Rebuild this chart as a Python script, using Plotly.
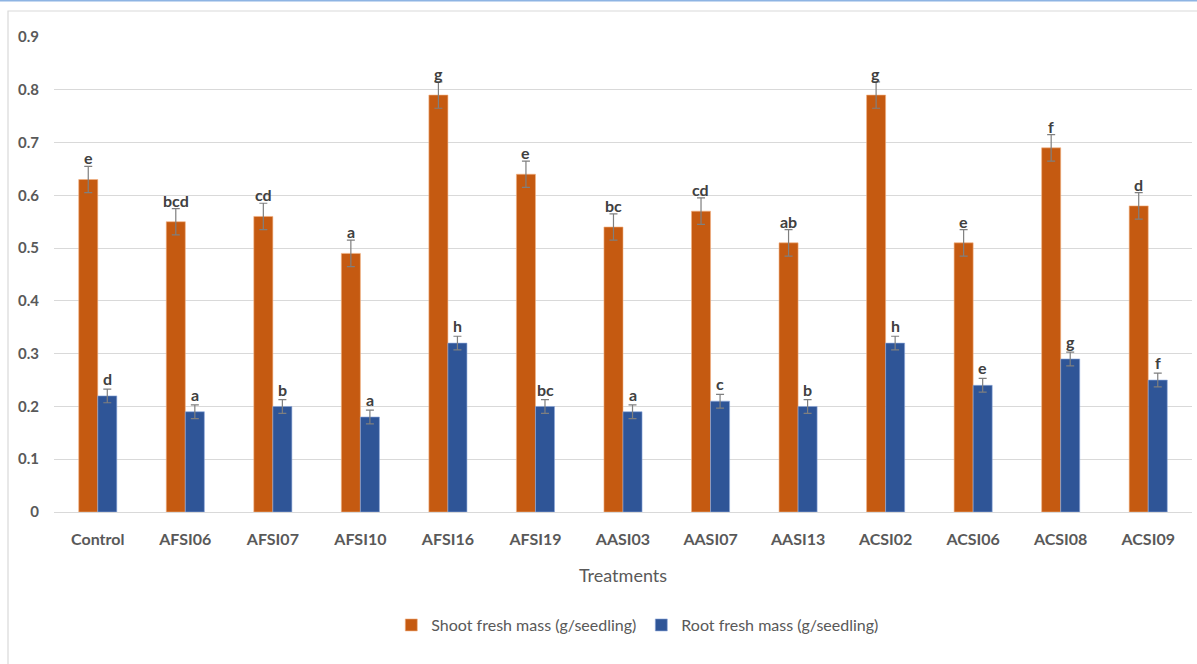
import plotly.graph_objects as go

treatments = ["Control", "AFSI06", "AFSI07", "AFSI10", "AFSI16", "AFSI19", "AASI03",
              "AASI07", "AASI13", "ACSI02", "ACSI06", "ACSI08", "ACSI09"]
shoot_mass = [0.63, 0.55, 0.56, 0.49, 0.79, 0.64, 0.54, 0.57, 0.51, 0.79, 0.51, 0.69, 0.58]
root_mass = [0.22, 0.19, 0.20, 0.18, 0.32, 0.20, 0.19, 0.21, 0.20, 0.32, 0.24, 0.29, 0.25]
shoot_err = [0.025, 0.025, 0.025, 0.025, 0.025, 0.025, 0.025, 0.025, 0.025, 0.025, 0.025, 0.025, 0.025]
root_err = [0.013, 0.013, 0.013, 0.013, 0.013, 0.013, 0.013, 0.013, 0.013, 0.013, 0.013, 0.013, 0.013]
shoot_letters = ["e", "bcd", "cd", "a", "g", "e", "bc", "cd", "ab", "g", "e", "f", "d"]
root_letters = ["d", "a", "b", "a", "h", "bc", "a", "c", "b", "h", "e", "g", "f"]
y_ticks = [0, 0.1, 0.2, 0.3, 0.4, 0.5, 0.6, 0.7, 0.8, 0.9]

ORANGE = "#C55A11"
BLUE = "#2F5597"
TEXT = "#595959"
FONT = "Lato, Open Sans, sans-serif"

err_style = dict(type="data", visible=True, color="#7F7F7F", thickness=1.2, width=4)

fig = go.Figure()
fig.add_trace(go.Bar(
    x=treatments, y=shoot_mass, name="Shoot fresh mass (g/seedling)",
    marker=dict(color=ORANGE, line=dict(color="#F4B183", width=0.6)),
    error_y=dict(array=shoot_err, **err_style),
))
fig.add_trace(go.Bar(
    x=treatments, y=root_mass, name="Root fresh mass (g/seedling)",
    marker=dict(color=BLUE, line=dict(color="#8FAADC", width=0.6)),
    error_y=dict(array=root_err, **err_style),
))

# significance letters above each error bar
annotations = []
for i, t in enumerate(treatments):
    annotations.append(dict(x=t, y=shoot_mass[i] + shoot_err[i], xref="x", yref="y",
                            text=shoot_letters[i], showarrow=False, xshift=-9.7,
                            yanchor="bottom", yshift=-3,
                            font=dict(family=FONT, size=16, color="#404040", weight="bold")))
    annotations.append(dict(x=t, y=root_mass[i] + root_err[i], xref="x", yref="y",
                            text=root_letters[i], showarrow=False, xshift=9.7,
                            yanchor="bottom", yshift=-1,
                            font=dict(family=FONT, size=16, color="#404040", weight="bold")))

fig.update_layout(
    width=1197, height=664,
    margin=dict(l=54, r=5, t=37, b=152),
    paper_bgcolor="white", plot_bgcolor="white",
    barmode="group", bargap=0.565, bargroupgap=0,
    font=dict(family=FONT, color=TEXT, size=14),
    annotations=annotations,
    showlegend=True,
    legend=dict(orientation="h", x=0.513, xanchor="center", y=-0.238, yanchor="middle",
                font=dict(family=FONT, size=16, color=TEXT), itemwidth=30,
                traceorder="normal"),
    xaxis=dict(
        title=dict(text="Treatments", font=dict(family=FONT, size=18, color=TEXT), standoff=22),
        tickfont=dict(family=FONT, size=16, color=TEXT, weight="bold"),
        showgrid=False, showline=False, ticks="", ticklen=0, ticklabelstandoff=16,
    ),
    yaxis=dict(
        range=[0, 0.9], tickvals=y_ticks, ticktext=[f"{v:g}" for v in y_ticks],
        tickfont=dict(family=FONT, size=15, color=TEXT, weight="bold"),
        showgrid=True, gridcolor="#D9D9D9", gridwidth=1,
        zeroline=True, zerolinecolor="#D9D9D9", zerolinewidth=1,
        showline=False, ticks="", ticklabelstandoff=14,
    ),
    shapes=[
        # outer chart frame
        dict(type="rect", xref="paper", yref="paper",
             x0=(8 - 54) / 1138, x1=(1205 - 54) / 1138,
             y0=(512 - 680) / 475, y1=(512 - 11) / 475,
             line=dict(color="#D9D9D9", width=1.2), fillcolor="rgba(0,0,0,0)", layer="below"),
        # thin accent line along the top edge
        dict(type="line", xref="paper", yref="paper",
             x0=-54 / 1138, x1=1143 / 1138, y0=(512 - 0.5) / 475, y1=(512 - 0.5) / 475,
             line=dict(color="#8EB4E3", width=2)),
    ],
)

fig.write_html("out.html")
